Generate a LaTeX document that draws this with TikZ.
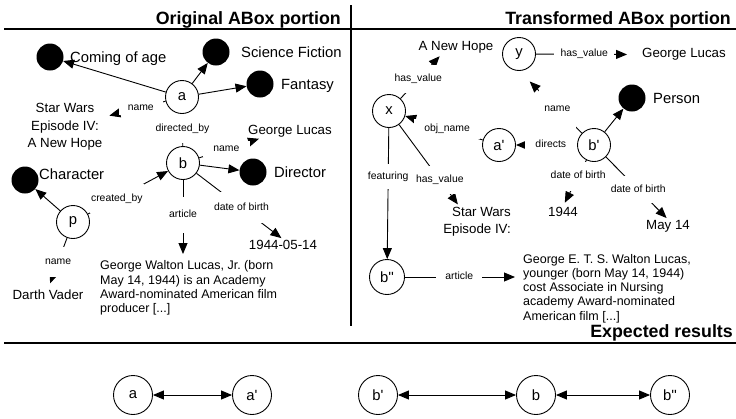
\documentclass[tikz,border=0pt]{standalone}
\usepackage{fontspec}
\setmainfont{Liberation Sans}[Ligatures=TeXOff]
\usetikzlibrary{arrows.meta}
\pgfdeclarelayer{edges}
\pgfsetlayers{edges,main}

\newcommand{\clsfont}{\fontsize{14.8}{17}\selectfont}
\newcommand{\valfont}{\fontsize{13.3}{17.5}\selectfont}
\newcommand{\lblfont}{\fontsize{10.4}{12}\selectfont}
\newcommand{\artfont}{\fontsize{12.5}{14.4}\selectfont\frenchspacing}
\newcommand{\ttlfont}{\fontsize{17.8}{20}\selectfont\bfseries}

\begin{document}
\begin{tikzpicture}[x=1pt, y=-1pt,
  ind/.style={circle, draw, line width=0.9pt, minimum size=33pt, inner sep=0pt, font=\clsfont},
  res/.style={circle, draw, line width=0.9pt, minimum size=39pt, inner sep=0pt, font=\clsfont},
  cls/.style={circle, fill=black, minimum size=27pt, inner sep=0pt},
  clsname/.style={anchor=base west, font=\clsfont, inner sep=1pt},
  val/.style={anchor=base, font=\valfont, inner sep=1pt},
  article/.style={anchor=north west, align=left, font=\artfont, inner sep=0pt},
  link/.style={line width=0.9pt, -{Triangle[length=11pt, width=9pt]}},
  plain/.style={line width=0.9pt},
  both/.style={line width=0.9pt, {Triangle[length=11pt, width=9pt]}-{Triangle[length=11pt, width=9pt]}},
  elabel/.style={fill=white, font=\lblfont, text height=7.5pt, text depth=2.2pt, inner xsep=2pt, inner ysep=3pt},
  title/.style={anchor=base east, font=\ttlfont, inner sep=0pt},
  rule/.style={line width=1.5pt}]
\useasboundingbox (0,0) rectangle (736,418);

\path (341,24) node[title] (title-original) {Original ABox portion};
\path (731,24) node[title] (title-transformed) {Transformed ABox portion};
\path (733,337) node[title] (title-expected) {Expected results};
\draw[rule] (4,29) -- (736,29);
\draw[rule] (351,5) -- (351,326);
\draw[rule] (4,343) -- (736,343);

\path (182,97) node[ind] (a) {a};
\path (183,163) node[ind] (b) {b};
\path (73,222) node[ind] (p) {p};
\path (50,57) node[cls] (coming-of-age) {};
\path (69,62.3) node[clsname] (coming-of-age-name) {Coming of age};
\path (216,52) node[cls] (science-fiction) {};
\path (240,57.3) node[clsname] (science-fiction-name) {Science Fiction};
\path (260,84) node[cls] (fantasy) {};
\path (280,89.3) node[clsname] (fantasy-name) {Fantasy};
\path (253,172) node[cls] (director) {};
\path (273,177.3) node[clsname] (director-name) {Director};
\path (25,180) node[cls] (character) {};
\path (38,179.3) node[clsname] (character-name) {Character};
\path (65,127) node[font=\valfont, align=center, inner sep=1pt] (star-wars-left) {Star Wars\\Episode IV:\\A New Hope};
\path (290,134.8) node[val] (george-lucas-left) {George Lucas};
\path (48,299.8) node[val] (darth-vader) {Darth Vader};
\path (283,249.8) node[val] (dob-left) {1944-05-14};
\path (100,260.5) node[article] (article-left) {George Walton Lucas, Jr. (born\\May 14, 1944) is an Academy\\Award-nominated American film\\producer [...]};

\path (389,111) node[ind] (x) {x};
\path (519,54) node[ind] (y) {y};
\path (499,145) node[ind] (a-prime) {a'};
\path (594,145) node[ind] (b-prime) {b'};
\path (387,277) node[ind, minimum size=35pt] (b-second) {b''};
\path (632,98) node[cls] (person) {};
\path (652,103.3) node[clsname] (person-name) {Person};
\path (456,50.8) node[val] (a-new-hope) {A New Hope};
\path (684,57.8) node[val] (george-lucas-right) {George Lucas};
\path (512,206) node[font=\valfont, align=right, anchor=north east, inner sep=1pt] (star-wars-right) {Star Wars\\Episode IV:};
\path (563,216.8) node[val] (year-1944) {1944};
\path (668,229.8) node[val] (may-14) {May 14};
\path (523,254) node[article, font=\fontsize{12.5}{14.2}\selectfont\frenchspacing] (article-right) {George E. T. S. Walton Lucas,\\younger (born May 14, 1944)\\cost Associate in Nursing\\academy Award-nominated\\American film [...]};

\path (133,395) node[res] (res-a) {a};
\path (252,395) node[res] (res-a-prime) {a'};
\path (378,395) node[res] (res-b-prime) {b'};
\path (536,395) node[res] (res-b) {b};
\path (670,395) node[res] (res-b-second) {b''};

\begin{pgfonlayer}{edges}
\draw[link] (a) -- (coming-of-age);
\draw[link] (a) -- (science-fiction);
\draw[link] (a) -- (fantasy);
\draw[link, shorten >=6pt] (a) -- (star-wars-left) node[elabel, pos=0.40, inner xsep=9pt] {name};
\draw[plain] (a) -- (b) node[elabel, pos=0.45, inner ysep=9.5pt] {directed\_by};
\draw[link] (b) -- ([xshift=12pt]george-lucas-left.south west) node[elabel, pos=0.455, inner xsep=10.5pt] {name};
\draw[link] (b) -- (director);
\draw[link] (p) -- (character);
\draw[link] (p) -- (b) node[elabel, pos=0.36, inner xsep=1.5pt, inner ysep=9.5pt] {created\_by};
\draw[link, shorten >=6pt] (p) -- (darth-vader.north) node[elabel, pos=0.47, inner xsep=3pt, inner ysep=10.5pt] {name};
\draw[link, shorten >=6.5pt] (b) -- (b |- article-left.north) node[elabel, pos=0.435, inner ysep=13.5pt] {article};
\draw[link, shorten >=2pt] (b) -- (dob-left.north) node[elabel, pos=0.52, inner xsep=1pt, inner ysep=11pt] {date of birth};

\draw[link, shorten >=2pt] (x) -- ([xshift=-15pt]a-new-hope.south) node[elabel, pos=0.44, inner ysep=9pt] {has\_value};
\draw[link, shorten >=14pt] (y) -- (george-lucas-right.west) node[elabel, pos=0.46, inner xsep=6.3pt] {has\_value};
\draw[link, shorten >=15pt] (b-prime) -- (y.south) node[elabel, pos=0.39, inner xsep=5.5pt, inner ysep=15.5pt] {name};
\draw[link] (b-prime) -- (person);
\draw[link] (b-prime) -- (a-prime) node[elabel, pos=0.43, inner xsep=10.7pt] {directs};
\draw[link] (a-prime) -- (x) node[elabel, pos=0.46, inner xsep=10pt, inner ysep=5.6pt] {obj\_name};
\draw[link] (x) -- (b-second) node[elabel, pos=0.37, inner ysep=8pt] {featuring};
\draw[link, shorten >=2pt] (x) -- ([xshift=17pt]star-wars-right.north west) node[elabel, pos=0.68, inner ysep=9pt] {has\_value};
\draw[link, shorten >=4pt] (b-prime) -- (year-1944.north) node[elabel, pos=0.35, inner xsep=1pt, inner ysep=9.5pt] {date of birth};
\draw[link, shorten >=2pt] (b-prime) -- (may-14.north) node[elabel, pos=0.52, inner xsep=1pt, inner ysep=8.5pt] {date of birth};
\draw[link, shorten >=8pt] (b-second) -- (b-second -| article-right.west) node[elabel, pos=0.46, inner xsep=9pt] {article};
\end{pgfonlayer}

\draw[both] (res-a) -- (res-a-prime);
\draw[both] (res-b-prime) -- (res-b);
\draw[both] (res-b) -- (res-b-second);

\end{tikzpicture}
\end{document}
